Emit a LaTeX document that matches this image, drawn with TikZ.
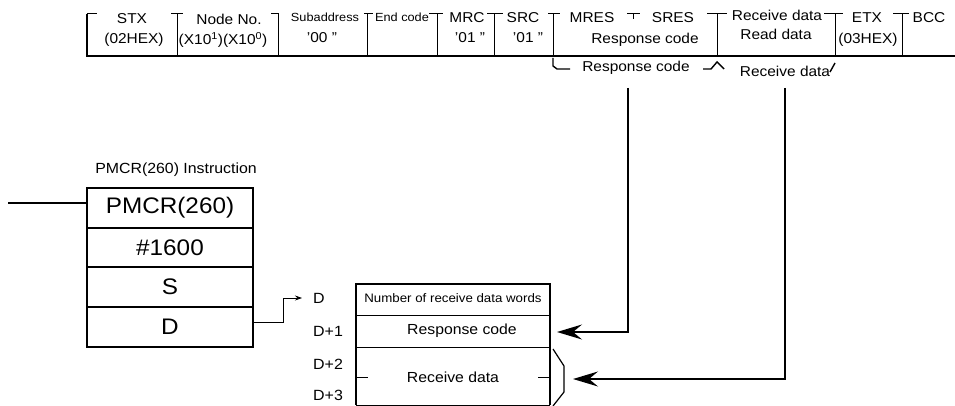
\documentclass[tikz,border=0pt]{standalone}
\usepackage{fontspec}
\setmainfont{Liberation Sans}[FakeStretch=1.08]
\usetikzlibrary{arrows.meta,calc}
\begin{document}
\begin{tikzpicture}[x=1pt,y=-1pt,
  every node/.style={inner sep=0pt},
  top/.style={font=\fontsize{14.3}{16}\selectfont},
  topsm/.style={font=\fontsize{11.8}{14}\selectfont},
  frame/.style={line width=2.4pt},
  div/.style={line width=1pt},
  brmark/.style={line width=1.4pt},
  pbox/.style={draw, line width=2.2pt, minimum width=166pt, minimum height=39.5pt, font=\fontsize{22.5}{26}\selectfont},
  tab/.style={font=\fontsize{14.6}{17}\selectfont},
  tabsm/.style={font=\fontsize{12.3}{14}\selectfont},
  dl/.style={font=\fontsize{14.8}{17}\selectfont, anchor=west},
  big/.style={line width=1.6pt, -{Stealth[length=25pt,width=15pt,inset=9pt]}},
  small/.style={line width=0.8pt, -{Stealth[length=7pt,width=5pt]}},
]
\useasboundingbox (0,0) rectangle (955,406);

% ---------- top frame ----------
\draw[frame] (87,14) -- (87,56) -- (955,56);
\draw[div] (87,14) -- (97,14);
\draw[div] (171,14) -- (183,14) (177,14) -- (177,56);
\draw[div] (271,14) -- (278,14) -- (278,56);
\draw[div] (364,14) -- (373,14) (367,14) -- (367,56);
\draw[div] (429,14) -- (443,14) (437,14) -- (437,56);
\draw[div] (487,14) -- (503,14) (494,14) -- (494,56);
\draw[div] (548,14) -- (560,14) (553,14) -- (553,56);
\draw[div] (627,14) -- (640,14) (633,14) -- (633,19);
\draw[div] (707,14) -- (727,14) (717,14) -- (717,56);
\draw[div] (824,14) -- (843,14) (835,14) -- (835,56);
\draw[div] (893,14) -- (909,14) (902,14) -- (902,56);

\node[top] (stx) at (132,19) {STX};
\node[top] (stxv) at (134,40) {(02HEX)};
\node[top] (node) at (229,19) {Node No.};
\node[top] (nodev) at (223,40) {(X10\textsuperscript{1})(X10\textsuperscript{0})};
\node[topsm] (sub) at (325,17) {Subaddress};
\node[top] (subv) at (322,38) {’00 ”};
\node[topsm] (end) at (402,17) {End code};
\node[top] (mrc) at (467,18) {MRC};
\node[top] (mrcv) at (470,38) {’01 ”};
\node[top] (src) at (523,18) {SRC};
\node[top] (srcv) at (528,38) {’01 ”};
\node[top] (mres) at (592,18) {MRES};
\node[top] (sres) at (673,18) {SRES};
\node[top] (resp) at (645,40) {Response code};
\node[top] (recv) at (777,15) {Receive data};
\node[top] (read) at (776,34) {Read data};
\node[top] (etx) at (867,18) {ETX};
\node[top] (etxv) at (868,40) {(03HEX)};
\node[top] (bcc) at (929,18) {BCC};

% under-frame braces
\draw[brmark] (553,58) -- (553,66) -- (557,69) -- (570,69);
\node[top] (urc) at (636,68) {Response code};
\draw[brmark] (703,69) -- (711,69) -- (717,62) -- (724,69);
\node[top] (urd) at (785,71) {Receive data};
\draw[brmark] (830,72) -- (835,63);

% ---------- PMCR instruction ----------
\node[font=\fontsize{14.7}{17}\selectfont] (ilbl) at (176,170) {PMCR(260) Instruction};
\node[pbox] (p1) at (170,208) {PMCR(260)};
\node[pbox] (p2) at (170,247.5) {\#1600};
\node[pbox] (p3) at (170,287) {S};
\node[pbox] (p4) at (170,327) {D};
\coordinate (lin) at (8,203);
\draw[line width=1.5pt] (lin) -- (lin -| p1.west);

% ---------- memory table ----------
\draw[line width=1.6pt] (356,405) -- (356,284) -- (550,284) -- (550,405);
\draw[line width=0.7pt] (356,315) -- (550,315) (356,347) -- (550,347) (356,405) -- (550,405);
\node[tabsm] (t1) at (453,298) {Number of receive data words};
\node[tab] (t2) at (462,331) {Response code};
\node[tab] (t3) at (453,377) {Receive data};
\draw[line width=0.8pt] (356,377) -- (368,377) (538,377) -- (550,377);

\node[dl] (d0) at (313,298) {D};
\node[dl] (d1) at (313,331) {D+1};
\node[dl] (d2) at (313,364) {D+2};
\node[dl] (d3) at (313,395) {D+3};

% bracket
\draw[line width=1.2pt] (553,349) -- (564,366) -- (564,392) -- (553,406);

% ---------- connectors ----------
\coordinate (dout) at (253,322);
\coordinate (dbend) at (283,322);
\coordinate (dtip) at (302,298);
\draw[small] (dout) -- (dbend) |- (dtip);

\coordinate (rcs) at (628,88);
\coordinate (rct) at (557,332);
\draw[big] (rcs) |- (rct);

\coordinate (rds) at (785,88);
\coordinate (rdt) at (573,379);
\draw[big] (rds) |- (rdt);
\end{tikzpicture}
\end{document}
